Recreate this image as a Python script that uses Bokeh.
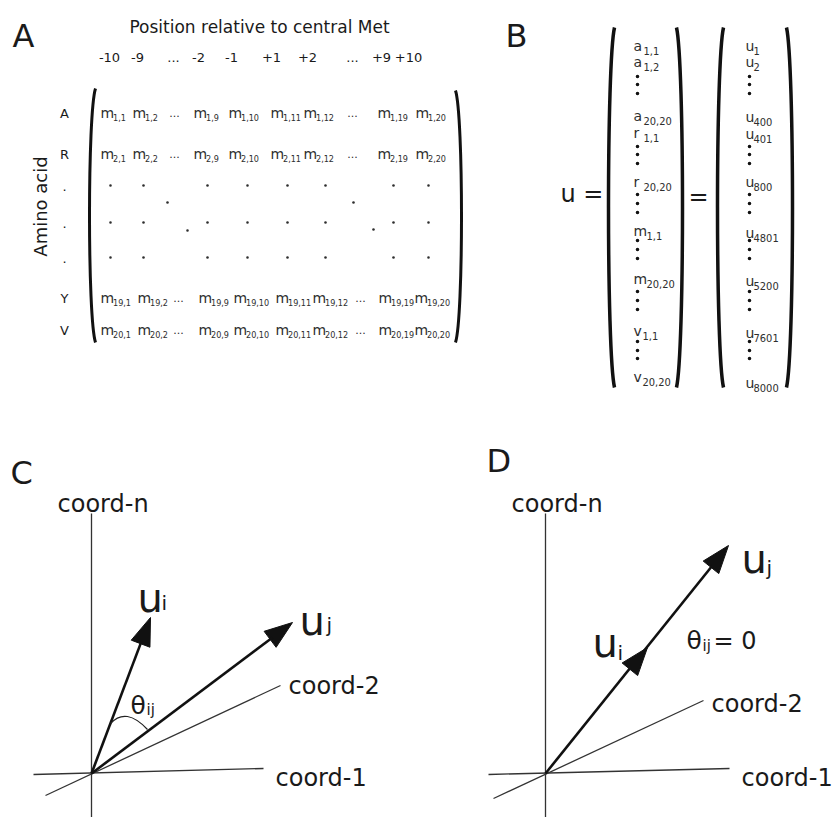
import math
from bokeh.plotting import figure
from bokeh.models import Range1d, ColumnDataSource
from bokeh.core.properties import value
from bokeh.embed import file_html
from bokeh.resources import INLINE

# ---------------- content / data ----------------
panel_letters = ["A", "B", "C", "D"]
header_title = "Position relative to central Met"
positions = ["-10", "-9", "...", "-2", "-1", "+1", "+2", "...", "+9", "+10"]
amino_rows = ["A", "R", ".", ".", ".", "Y", "V"]
y_label = "Amino acid"
row_index = [1, 2, 19, 20]
col_index = [1, 2, 9, 10, 11, 12, 19, 20]
vec_letters = ["a", "a", "a", "r", "r", "m", "m", "v", "v"]
vec_subs = ["1,1", "1,2", "20,20", "1,1", "20,20", "1,1", "20,20", "1,1", "20,20"]
u_subs = ["1", "2", "400", "401", "800", "4801", "5200", "7601", "8000"]
coord_labels = ["coord-n", "coord-1", "coord-2"]
# vectors from origin (dx right, dy up), diagram units
vec_C_i = (59, 156)
vec_C_j = (201, 151)
vec_D_i = (102, 126)
vec_D_j = (183, 228)

# ---------------- layout ----------------
W, H = 832, 817
INK = "#1a1a1a"
GREY = "#2e2e2e"
FONT = value("DejaVu Sans")
SUBFONT = value("DejaVu Sans Condensed, Liberation Sans, sans-serif")

p = figure(width=W, height=H, x_range=Range1d(0, W), y_range=Range1d(H, 0),
           x_axis_type=None, y_axis_type=None, toolbar_location=None,
           output_backend="svg", min_border=0, outline_line_color=None,
           background_fill_color="white", border_fill_color="white")
p.grid.visible = False


def txt(xs, ys, texts, size, align="left", baseline="alphabetic", angle=0.0,
        color=INK, font=FONT):
    src = ColumnDataSource(dict(x=list(xs), y=list(ys), text=list(texts)))
    p.text(x="x", y="y", text="text", source=src, text_font=font,
           text_font_size=value(f"{size}px"), text_align=align,
           text_baseline=baseline, angle=angle, text_color=color)


def parens(items, lw):
    d = dict(x0=[], y0=[], x1=[], y1=[], cx0=[], cy0=[], cx1=[], cy1=[])
    for x_end, x_mid, ya, yb in items:
        xc = x_end + (x_mid - x_end) * 4.0 / 3.0
        k = 0.10 * (yb - ya)
        d["x0"].append(x_end); d["y0"].append(ya)
        d["x1"].append(x_end); d["y1"].append(yb)
        d["cx0"].append(xc); d["cy0"].append(ya + k)
        d["cx1"].append(xc); d["cy1"].append(yb - k)
    p.bezier(x0="x0", y0="y0", x1="x1", y1="y1", cx0="cx0", cy0="cy0",
             cx1="cx1", cy1="cy1", source=ColumnDataSource(d),
             line_color="#111111", line_width=lw)


# panel letters
txt([12, 505, 10, 486], [35, 35, 472, 460], panel_letters, 32)

# ---------------- Panel A ----------------
txt([259], [26], [header_title], 17, align="center")
col_x = [109, 137, 173, 198, 231, 271, 307, 352, 381, 408]
txt(col_x, [57] * len(positions), positions, 13, align="center")
txt([40], [206], [y_label], 18, align="center", baseline="middle", angle=math.pi / 2)

row_base = {1: 112, 2: 153, 19: 297, 20: 329}
dot_rows_y = [185, 222, 257]
label_y = [row_base[1] + 1, row_base[2] + 1] + [y + 1 for y in dot_rows_y] + \
          [row_base[19] + 1, row_base[20] + 1]
txt([64] * len(amino_rows), label_y, amino_rows, 13, align="center")

entry_x = {1: [100, 132, 193, 228, 270, 303, 377, 415],
           2: [100, 132, 193, 228, 270, 303, 377, 415],
           19: [100, 137, 198, 233, 275, 312, 378, 414],
           20: [100, 137, 198, 233, 275, 312, 378, 414]}
ell_x = {1: [174, 352], 2: [174, 352], 19: [178, 360], 20: [178, 360]}
mx, my, mt, sx, sy, st, ex, ey = [], [], [], [], [], [], [], []
for r in row_index:
    for c, x in zip(col_index, entry_x[r]):
        mx.append(x); my.append(row_base[r]); mt.append("m")
        sx.append(x + 12.5); sy.append(row_base[r] + 5); st.append(f"{r},{c}")
    for x in ell_x[r]:
        ex.append(x); ey.append(row_base[r])
txt(mx, my, mt, 14, color=GREY)
txt(sx, sy, st, 9, color=GREY, font=SUBFONT)
txt(ex, ey, ["..."] * len(ex), 11, align="center", color=GREY)

dot_cols = [110, 143, 207, 247, 287, 325, 393, 428]
dxs, dys = [], []
for y in dot_rows_y:
    for x in dot_cols:
        dxs.append(x); dys.append(y)
dxs += [167, 187, 353, 373]
dys += [202, 230, 202, 229]
p.scatter(dxs, dys, size=2.6, color=GREY, line_color=None)

parens([(95, 89, 88, 342), (455, 461, 90, 342)], 3)

# ---------------- Panel B ----------------
txt([560], [193], ["u ="], 24)
txt([688], [196], ["="], 24)
vec_y = [41, 57, 111, 128, 177, 226, 274, 326, 372]
u_y = [41, 57, 112, 129, 177, 228, 276, 328, 378]
sub_off = {"a": 10, "r": 10, "m": 13, "v": 9, "u": 8}
txt([633] * len(vec_letters), [y + 4 for y in vec_y], vec_letters, 14, color=GREY)
txt([633 + sub_off[l] for l in vec_letters], [y + 9 for y in vec_y], vec_subs, 11,
    color=GREY, font=SUBFONT)
txt([745] * len(u_subs), [y + 4 for y in u_y], ["u"] * len(u_subs), 14, color=GREY)
txt([745 + sub_off["u"]] * len(u_subs), [y + 9 for y in u_y], u_subs, 11,
    color=GREY, font=SUBFONT)

vdots = [76, 84, 93, 146, 154, 163, 194, 203, 212, 240, 249, 258, 291, 300, 309, 341, 350, 358]
p.scatter([637] * len(vdots) + [749] * len(vdots), vdots + vdots, size=3.6,
          color="#111111", line_color=None)

parens([(614, 608, 27, 387), (676, 682, 27, 387),
        (723, 717, 27, 387), (786, 792, 27, 387)], 3.5)


# ---------------- Panels C and D ----------------
def head(tip, vec, head_len=28, head_w=20):
    L = math.hypot(vec[0], vec[1])
    ux, uy = vec[0] / L, -vec[1] / L
    nx, ny = -uy, ux
    bx, by = tip[0] - ux * head_len, tip[1] - uy * head_len
    p.patch([tip[0], bx + nx * head_w / 2, bx - nx * head_w / 2],
            [tip[1], by + ny * head_w / 2, by - ny * head_w / 2],
            fill_color="#111111", line_color="#111111", line_width=1)
    return bx + ux * 3, by + uy * 3


def arrow(origin, vec):
    tip = (origin[0] + vec[0], origin[1] - vec[1])
    ex_, ey_ = head(tip, vec)
    p.segment([origin[0]], [origin[1]], [ex_], [ey_], line_color="#111111",
              line_width=2.6)


def axes(o, h_line, c2_line):
    p.segment([o[0], h_line[0]], [513, h_line[1]], [o[0], h_line[2]], [817, h_line[3]],
              line_color="#333333", line_width=1.3)
    p.segment([c2_line[0]], [c2_line[1]], [c2_line[2]], [c2_line[3]],
              line_color="#333333", line_width=1.3)


O_C = (91, 773)
O_D = (545, 773)
axes(O_C, (33, 774, 263, 768), (45, 795, 280, 685))
axes(O_D, (488, 774, 729, 768), (493, 798, 703, 700))

txt([57, 275, 288], [503, 777, 685], coord_labels, 24)
txt([511, 741, 711], [503, 777, 703], coord_labels, 24)

arrow(O_C, vec_C_i)
arrow(O_C, vec_C_j)
# angle arc in C
p.quadratic(x0=[110], y0=[723], x1=[147], y1=[729], cx=[125.5], cy=[706],
            line_color="#222222", line_width=1.2)

# D: u_j full arrow, u_i head lying on the same line
arrow(O_D, vec_D_j)
head((O_D[0] + vec_D_i[0], O_D[1] - vec_D_i[1]), vec_D_i)

# vector labels
txt([137, 299, 592, 741], [597, 620, 642, 558], ["u", "u", "u", "u"], 40)
txt([161, 326, 617, 766], [602, 624, 652, 567], ["i", "j", "i", "j"], 20)
txt([130, 686], [705, 640], ["θ", "θ"], 25)
txt([146, 702], [709, 645], ["ij", "ij"], 15)
txt([713], [640], ["= 0"], 24)

open("out.html", "w").write(file_html(p, INLINE))
